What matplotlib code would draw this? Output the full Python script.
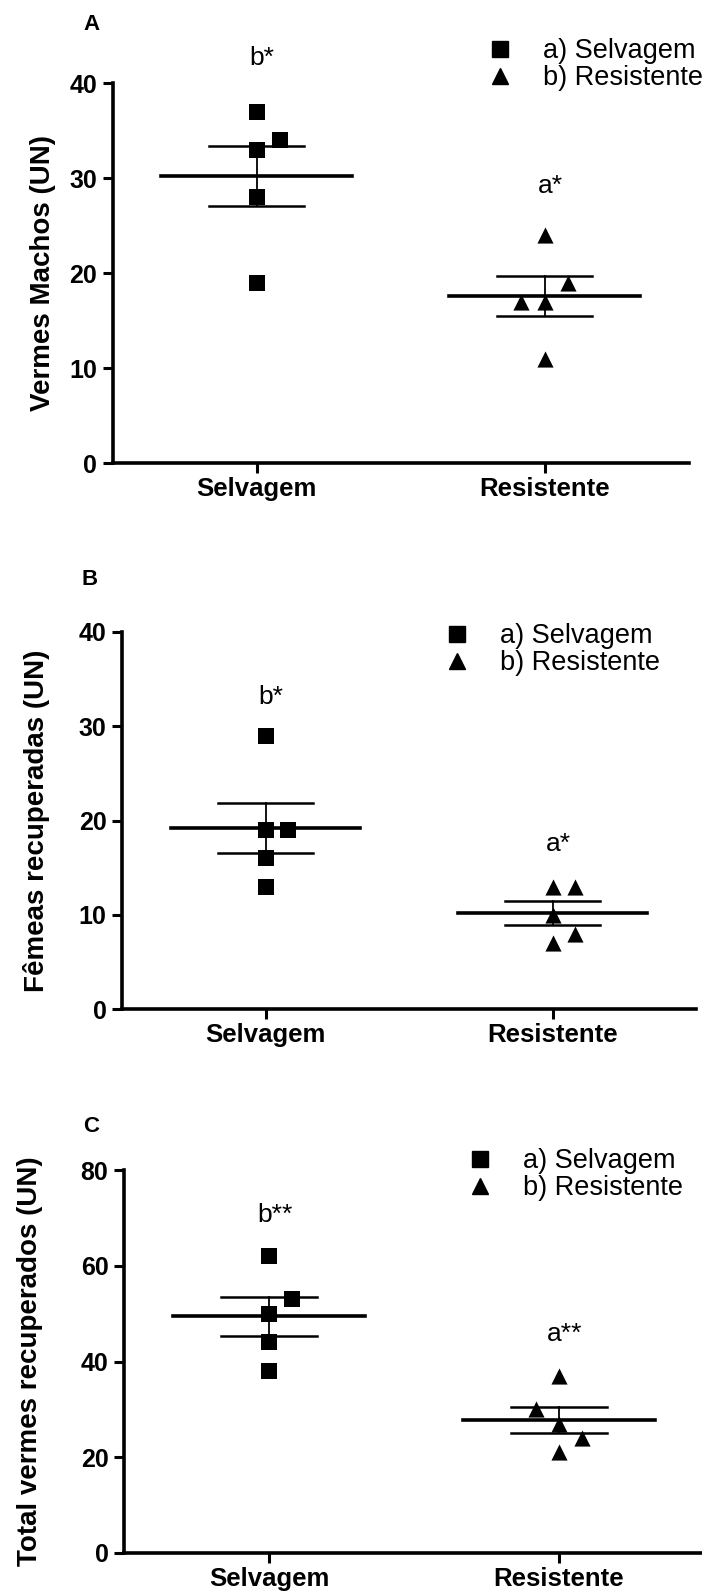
import matplotlib
matplotlib.use('Agg')
import matplotlib.pyplot as plt
from matplotlib.lines import Line2D
import numpy as np

plt.rcParams['font.family'] = ['Liberation Sans', 'DejaVu Sans']

groups = ['Selvagem', 'Resistente']
legend_labels = ['a) Selvagem', 'b) Resistente']

# panel A - machos
machos_selv = [37, 34, 33, 28, 19]
machos_res = [24, 19, 17, 17, 11]
# panel B - femeas
femeas_selv = [29, 19, 19, 16, 13]
femeas_res = [13, 13, 10, 8, 7]
# panel C - total
total_selv = [62, 53, 50, 44, 38]
total_res = [37, 30, 27, 24, 21]

# horizontal spread of overlapping points (category units)
jit_a = ([0, 0.08, 0, 0, 0], [0, 0.08, -0.08, 0, 0])
jit_b = ([0, 0, 0.08, 0, 0], [0, 0.08, 0, 0.08, 0])
jit_c = ([0, 0.08, 0, 0, 0], [0, -0.08, 0, 0.08, 0])

W, H = 702, 1596
fig = plt.figure(figsize=(W / 100, H / 100), dpi=100)


def px_axes(left, top, right, bottom):
    return fig.add_axes([left / W, 1 - bottom / H, (right - left) / W, (bottom - top) / H])


def panel(ax, selv, res, jit, ymax, ystep, ylabel, ylab_x, notes, note_y):
    for i, (vals, mk) in enumerate([(selv, 's'), (res, '^')]):
        vals = np.array(vals, dtype=float)
        m = vals.mean()
        sem = vals.std(ddof=1) / np.sqrt(len(vals))
        ax.scatter(i + np.array(jit[i]), vals, marker=mk, s=135, color='black',
                   zorder=3, clip_on=False, linewidths=0)
        ax.plot([i - 0.33, i + 0.33], [m, m], color='black', lw=2.6, zorder=2)
        ax.plot([i - 0.166, i + 0.166], [m + sem, m + sem], color='black', lw=1.8, zorder=2)
        ax.plot([i - 0.166, i + 0.166], [m - sem, m - sem], color='black', lw=1.8, zorder=2)
        ax.plot([i, i], [m - sem, m + sem], color='black', lw=1.3, zorder=2)
        ax.text(i + 0.02, note_y[i], notes[i], ha='center', va='center', fontsize=19)
    ax.set_xlim(-0.5, 1.5)
    ax.set_ylim(0, ymax)
    ax.set_xticks([0, 1])
    ax.set_xticklabels(groups, fontweight='bold', fontsize=18.5)
    ticks = np.arange(0, ymax + 1, ystep)
    ax.set_yticks(ticks)
    ax.set_yticklabels([str(v) for v in ticks], fontweight='bold', fontsize=18)
    for s in ['top', 'right']:
        ax.spines[s].set_visible(False)
    for s in ['left', 'bottom']:
        ax.spines[s].set_linewidth(2.6)
    ax.tick_params(axis='both', direction='out', length=7.2, width=2.2)
    ax.tick_params(axis='y', pad=4)
    ax.tick_params(axis='x', pad=3)
    ax.set_ylabel(ylabel, fontweight='bold', fontsize=20)
    ax.yaxis.set_label_coords(ylab_x, 0.5)


handles = [Line2D([], [], marker='s', ls='none', color='black', markersize=11.5),
           Line2D([], [], marker='^', ls='none', color='black', markersize=11.5)]

axA = px_axes(112.5, 83.3, 688.5, 463.3)
panel(axA, machos_selv, machos_res, jit_a, 40, 10, 'Vermes Machos (UN)',
      -0.098, ['b*', 'a*'], [42.7, 29.2])
axB = px_axes(122, 631.7, 696, 1009.3)
panel(axB, femeas_selv, femeas_res, jit_b, 40, 10, 'Fêmeas recuperadas (UN)',
      -0.126, ['b*', 'a*'], [33.1, 17.5])
axC = px_axes(124, 1170, 704, 1553)
panel(axC, total_selv, total_res, jit_c, 80, 20, 'Total vermes recuperados (UN)',
      -0.140, ['b**', 'a**'], [70.6, 45.7])

# legends, placed by pixel position of upper left corner
for left, top in [(486.5, 38), (443.5, 623), (466.5, 1148)]:
    fig.legend(handles, legend_labels, loc='upper left',
               bbox_to_anchor=(left / W, 1 - top / H), frameon=False,
               fontsize=19.5, handlelength=1, handletextpad=1.09,
               borderpad=0, labelspacing=0.05, borderaxespad=0)

for letter, x, y in [('A', 91, 24), ('B', 90, 580), ('C', 91, 1126)]:
    fig.text(x / W, 1 - y / H, letter, fontsize=16, fontweight='bold',
             ha='center', va='center')

fig.savefig('out.png', dpi=100)
